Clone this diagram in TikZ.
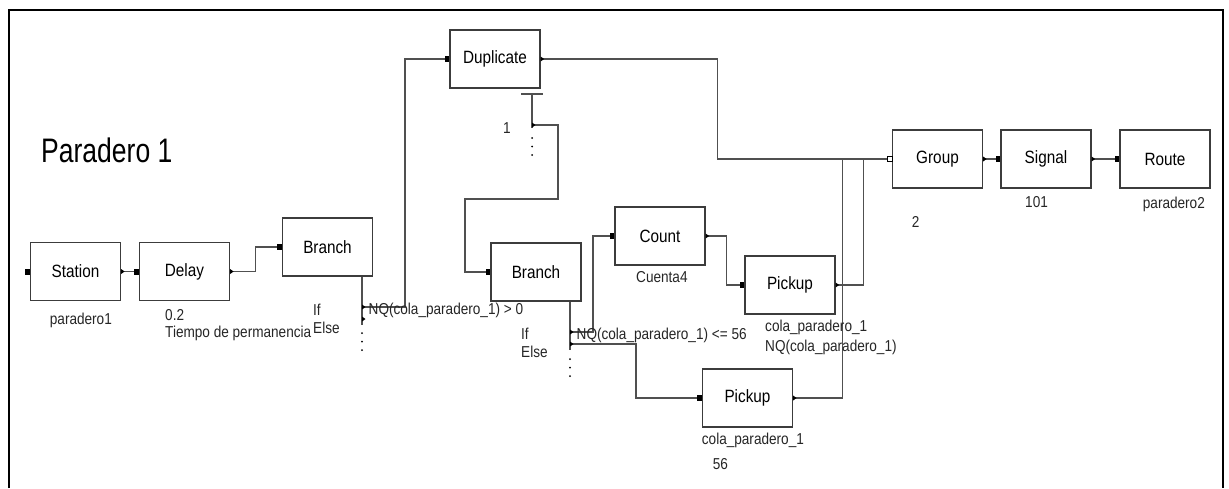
\documentclass[tikz,border=0pt]{standalone}
\usepackage{fontspec}
\setmainfont{Liberation Sans}
\newfontfamily\blkfont[FakeStretch=0.86]{Liberation Sans}
\newfontfamily\ttlfont[FakeStretch=0.78]{Liberation Sans}
\definecolor{wirec}{HTML}{505050}
\definecolor{boxc}{HTML}{3C3C3C}

% entry port: small filled square just left of a point
\newcommand\portin[1]{\fill[black] (#1) ++(-4.5,-3) rectangle ++(4.5,6);}
% exit port: small arrowhead pointing right
\newcommand\portout[1]{\fill[black] (#1) -- ++(0,-2.5) -- ++(3.5,2.5) -- ++(-3.5,2.5) -- cycle;}
% three dots under a branch/duplicate block
\newcommand\portdots[1]{\foreach \d in {0,8.5,17}{\fill[black] (#1) ++(0,\d) circle (1);}}

\tikzset{
  blk/.style={draw=boxc, line width=1.2pt, minimum width=90pt, minimum height=58pt,
              inner sep=0pt, font=\blkfont\fontsize{17.8}{20}\selectfont},
  wire/.style={draw=wirec, line width=1.2pt},
  lbl/.style={anchor=base west, inner sep=0pt, text=black!85,
              font=\blkfont\fontsize{15.8}{17}\selectfont},
}

\begin{document}
\begin{tikzpicture}[x=1pt, y=-1pt]
\useasboundingbox (0,0) rectangle (1229,488);
\fill[white] (0,0) rectangle (1229,488);

% frame
\draw[black, line width=2pt] (9,488) -- (9,10) -- (1223,10) -- (1223,488);

% title
\node[anchor=base west, inner sep=0pt, font=\ttlfont\fontsize{34}{38}\selectfont] (title) at (41,162) {Paradero 1};

% blocks
\node[blk] (station)   at (75.5,271.5) {Station};
\node[blk] (delay)     at (184.5,271.5) {Delay};
\node[blk] (branchA)   at (327.5,247) {Branch};
\node[blk] (duplicate) at (495,59)   {Duplicate};
\node[blk] (branchB)   at (536,272)  {Branch};
\node[blk] (count)     at (660,236)  {Count};
\node[blk] (pickA)     at (790,285)  {Pickup};
\node[blk] (pickB)     at (747.5,398) {Pickup};
\node[blk] (group)     at (937.5,159) {Group};
\node[blk] (signal)    at (1046,159) {Signal};
\node[blk] (route)     at (1165,159) {Route};

% branch and duplicate exit points
\coordinate (aIf)   at (362,307);
\coordinate (aElse) at (362,319);
\coordinate (bIf)   at (570,332);
\coordinate (bElse) at (570,344);
\coordinate (dBar)  at (532,94);
\coordinate (dOut)  at (532,125);

% connectors
\draw[wire] (station.east) -- (delay.west);
\draw[wire] (delay.east) -- ++(25,0) |- (branchA.west);
\draw[wire] (aIf |- branchA.south) -- (aElse) -- ++(0,6);
\draw[wire] (aIf) -- ++(43,0) |- (duplicate.west);
\draw[wire] (duplicate.east) -- ++(177,0) |- (group.west);
\draw[wire] (521,94) -- (543,94);
\draw[wire] (dBar) -- ++(0,34);
\draw[wire] (dOut) -- ++(26,0) -- ++(0,74) -- ++(-93,0) |- (branchB.west);
\draw[wire] (bIf |- branchB.south) -- (bElse) -- ++(0,6);
\draw[wire] (bIf) -- ++(23,0) |- (count.west);
\draw[wire] (bElse) -- ++(66,0) |- (pickB.west);
\draw[wire] (count.east) -- ++(21,0) |- (pickA.west);
\draw[wire] (pickA.east) -- ++(28,0) |- (group.west);
\draw[wire] (pickB.east) -- ++(49,0) |- (group.west);
\draw[wire] (group.east) -- (signal.west);
\draw[wire] (signal.east) -- (route.west);

% ports
\portin{station.west}
\portout{station.east}
\portin{delay.west}
\portout{delay.east}
\portin{branchA.west}
\portout{aIf}
\portout{aElse}
\portdots{362,333}
\portin{duplicate.west}
\portout{duplicate.east}
\portout{dOut}
\portdots{532,138}
\portin{branchB.west}
\portout{bIf}
\portout{bElse}
\portdots{570,359}
\portin{count.west}
\portout{count.east}
\portin{pickA.west}
\portout{pickA.east}
\portin{pickB.west}
\portout{pickB.east}
\draw[black, fill=white, line width=0.8pt] (group.west) ++(-5,-2.5) rectangle ++(5,5);
\portout{group.east}
\portin{signal.west}
\portout{signal.east}
\portin{route.west}

% labels
\node[lbl] (lStation) at (49.7,324) {paradero1};
\node[lbl] (lDelayA)  at (165,320) {0.2};
\node[lbl] (lDelayB)  at (165,337.7) {Tiempo de permanencia};
\node[lbl] (lIfA)     at (313,315) {If};
\node[lbl] (lElseA)   at (313,333) {Else};
\node[lbl] (lCondA)   at (368.5,314.5) {NQ(cola\_paradero\_1) > 0};
\node[lbl] (lDup)     at (503,133.3) {1};
\node[lbl] (lIfB)     at (521,339.5) {If};
\node[lbl] (lElseB)   at (521,357.7) {Else};
\node[lbl] (lCondB)   at (576.5,339.5) {NQ(cola\_paradero\_1) <= 56};
\node[lbl] (lCount)   at (636,282.7) {Cuenta4};
\node[lbl] (lPickA1)  at (765,331.7) {cola\_paradero\_1};
\node[lbl] (lPickA2)  at (765,351.7) {NQ(cola\_paradero\_1)};
\node[lbl] (lPickB1)  at (701.7,444.3) {cola\_paradero\_1};
\node[lbl] (lPickB2)  at (712.7,469.3) {56};
\node[lbl] (lGroup)   at (911.7,227) {2};
\node[lbl] (lSignal)  at (1025,207) {101};
\node[lbl] (lRoute)   at (1142.7,208.3) {paradero2};
\end{tikzpicture}
\end{document}
